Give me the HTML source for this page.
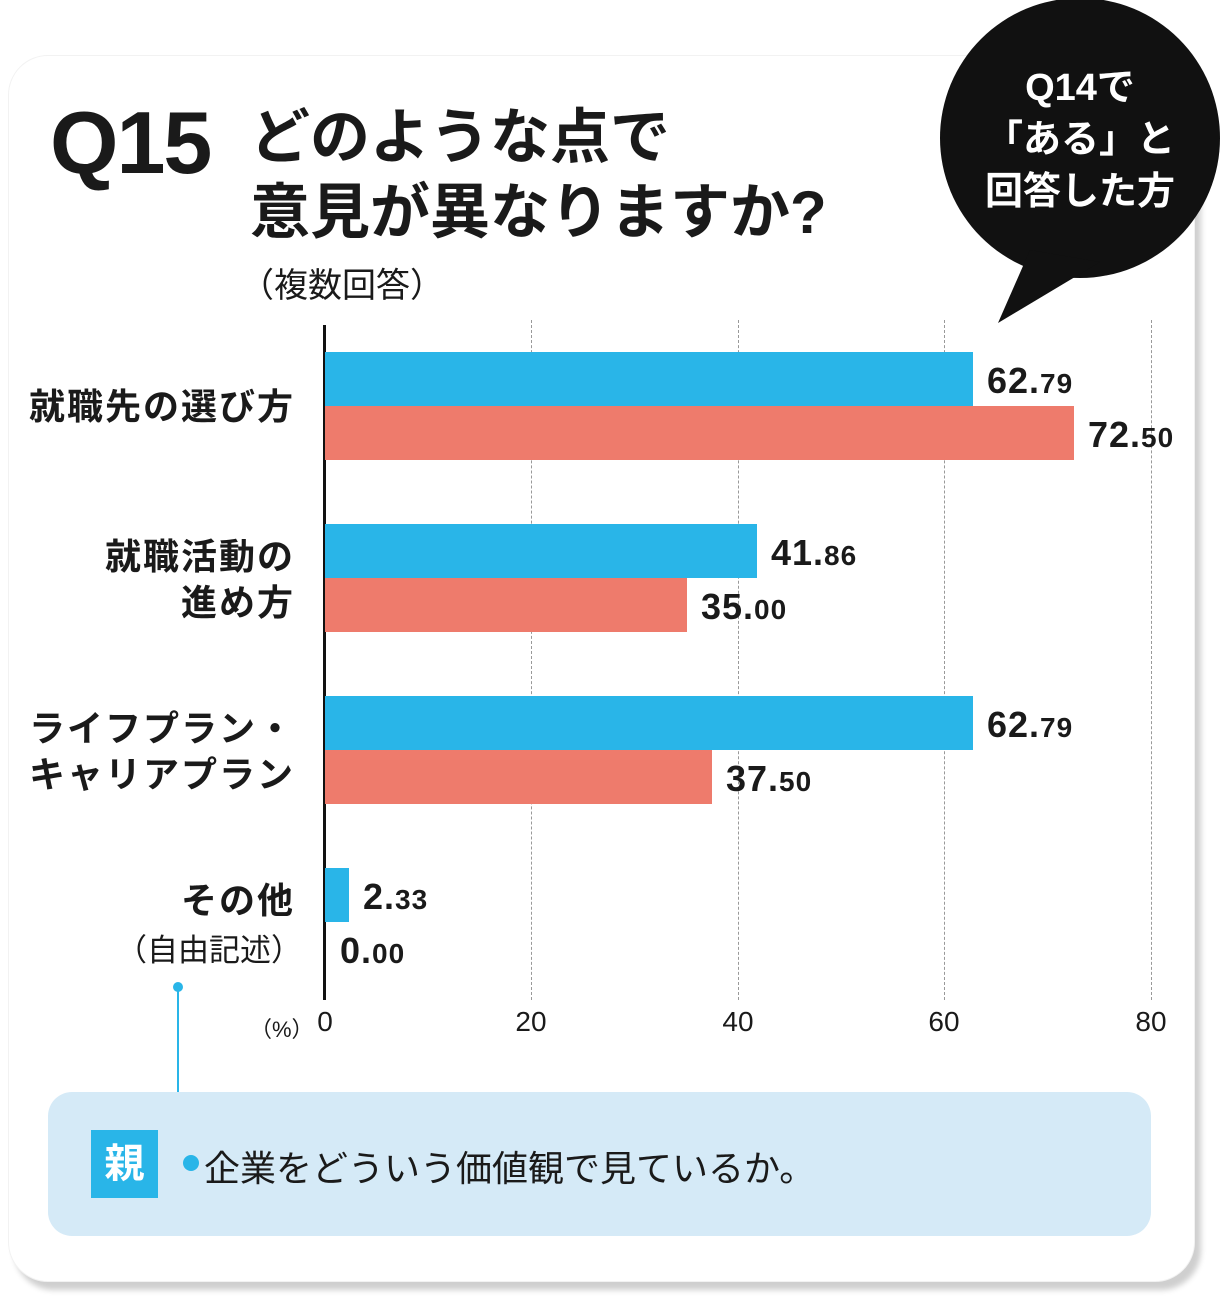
<!DOCTYPE html>
<html><head><meta charset="utf-8"><style>
body{margin:0;width:1220px;height:1305px;background:#fff;position:relative;overflow:hidden;font-family:"Liberation Sans","Noto Sans CJK JP",sans-serif;color:#1a1a1a}
.a{position:absolute}
.card{left:8px;top:55px;width:1185px;height:1225px;border-radius:40px;background:#fff;box-shadow:6px 8px 6px #cfcfcf;border:1px solid #f2f2f2}
.bar{position:absolute;height:54px}
.b{background:#29b5e8}.r{background:#ee7b6c}
.val{position:absolute;font-weight:900;font-size:36px;line-height:34px;font-family:"Liberation Sans",sans-serif;letter-spacing:1px}
.val small{font-size:28px}
.grid{position:absolute;top:320px;height:680px;border-left:1.5px dashed #999}
.lab{position:absolute;right:925px;text-align:right;font-weight:bold;font-size:36px;line-height:46px;letter-spacing:2px}
.tick{position:absolute;top:1006px;font-size:28px;width:60px;margin-left:-30px;text-align:center}
</style></head><body>
<div class="a card"></div>
<div class="a" style="left:50px;top:92px;font-size:88px;font-weight:900;letter-spacing:-2px">Q15</div>
<div class="a" style="left:250px;top:100px;font-size:60px;font-weight:bold;line-height:75px">どのような点で<br>意見が異なりますか?</div>
<div class="a" style="left:240px;top:258px;font-size:34px">（複数回答）</div>
<svg class="a" style="left:0;top:0" width="1220" height="340"><circle cx="1080" cy="138" r="140" fill="#111"/><polygon points="1030,250 1100,262 998,323" fill="#111"/></svg>
<div class="a" style="left:960px;top:62px;width:240px;text-align:center;color:#fff;font-size:38px;line-height:52px;font-weight:bold">Q14で<br>「ある」と<br>回答した方</div>
<div class="grid" style="left:531px"></div><div class="grid" style="left:738px"></div><div class="grid" style="left:944px"></div><div class="grid" style="left:1151px"></div>
<div class="a" style="left:323px;top:325px;width:3px;height:675px;background:#111"></div>
<div class="bar b" style="left:325px;top:352px;width:648px"></div>
<div class="bar r" style="left:325px;top:406px;width:749px"></div>
<div class="bar b" style="left:325px;top:524px;width:432px"></div>
<div class="bar r" style="left:325px;top:578px;width:362px"></div>
<div class="bar b" style="left:325px;top:696px;width:648px"></div>
<div class="bar r" style="left:325px;top:750px;width:387px"></div>
<div class="bar b" style="left:325px;top:868px;width:24px"></div>
<div class="val" style="left:987px;top:364px">62.<small>79</small></div>
<div class="val" style="left:1088px;top:418px">72.<small>50</small></div>
<div class="val" style="left:771px;top:536px">41.<small>86</small></div>
<div class="val" style="left:701px;top:590px">35.<small>00</small></div>
<div class="val" style="left:987px;top:708px">62.<small>79</small></div>
<div class="val" style="left:726px;top:762px">37.<small>50</small></div>
<div class="val" style="left:363px;top:880px">2.<small>33</small></div>
<div class="val" style="left:340px;top:934px">0.<small>00</small></div>
<div class="lab" style="top:384px">就職先の選び方</div>
<div class="lab" style="top:534px">就職活動の<br>進め方</div>
<div class="lab" style="top:706px">ライフプラン・<br>キャリアプラン</div>
<div class="lab" style="top:878px">その他</div>
<div class="a" style="right:918px;top:925px;font-size:31px">（自由記述）</div>
<div class="a" style="left:250px;top:1012px;font-size:22px">（%）</div>
<div class="tick" style="left:325px">0</div><div class="tick" style="left:531px">20</div><div class="tick" style="left:738px">40</div><div class="tick" style="left:944px">60</div><div class="tick" style="left:1151px">80</div>
<div class="a" style="left:173px;top:982px;width:10px;height:10px;border-radius:5px;background:#29b5e8"></div>
<div class="a" style="left:177px;top:990px;width:2px;height:102px;background:#29b5e8"></div>
<div class="a" style="left:48px;top:1092px;width:1103px;height:144px;border-radius:24px;background:#d5eaf7"></div>
<div class="a" style="left:91px;top:1130px;width:67px;height:68px;background:#29b5e8;color:#fff;font-size:40px;font-weight:bold;text-align:center;line-height:68px">親</div>
<div class="a" style="left:183px;top:1155px;width:16px;height:16px;border-radius:8px;background:#29b5e8"></div>
<div class="a" style="left:204px;top:1140px;font-size:36px">企業をどういう価値観で見ているか。</div>
</body></html>
